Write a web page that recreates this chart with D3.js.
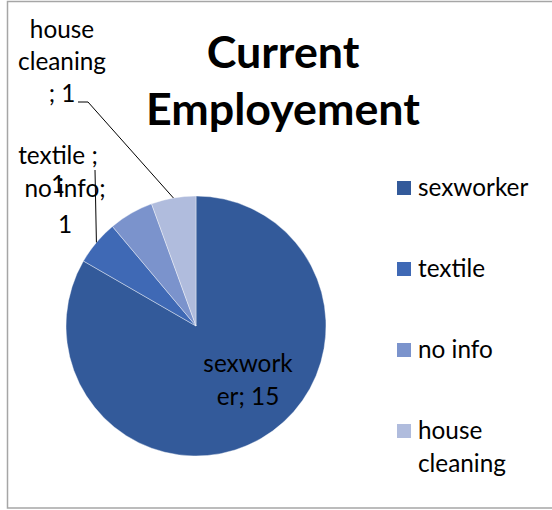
<!DOCTYPE html>
<html><head><meta charset="utf-8">
<script src="https://cdn.jsdelivr.net/npm/d3@7"></script>
<style>body{margin:0;background:#fff}svg{display:block}</style>
</head><body>
<svg id="c" width="552" height="510"></svg>
<script>
const categories = ["sexworker", "textile", "no info", "house cleaning"];
const values = [15, 1, 1, 1];
const colors = ["#335a9a", "#3f69b5", "#7b93cc", "#b0bcdd"];
const titleLines = ["Current", "Employement"];

const svg = d3.select("#c");
const W = 552, H = 510;
const FONT = "Lato, Carlito, Calibri, sans-serif";

svg.append("rect").attr("x", 0).attr("y", 0).attr("width", W).attr("height", H).attr("fill", "#fff");
svg.append("rect").attr("x", 7.5).attr("y", 1.5).attr("width", 600).attr("height", 506.5)
  .attr("fill", "none").attr("stroke", "#a6a6a6").attr("stroke-width", 1.5);

function fitSize(text, weight, target) {
  const t = svg.append("text").attr("font-family", FONT).attr("font-weight", weight)
    .attr("font-size", 100).text(text);
  const w = t.node().getComputedTextLength();
  t.remove();
  return 100 * target / w;
}
const titleSize = fitSize("Employement", "bold", 274);
const bodySize = fitSize("cleaning", "normal", 88);

// Title
const titleG = svg.append("g").attr("font-family", FONT).attr("font-weight", "bold")
  .attr("font-size", titleSize).attr("text-anchor", "middle").attr("fill", "#000");
titleG.selectAll("text").data(titleLines).join("text")
  .attr("x", 283).attr("y", (d, i) => 68 + i * 57).text(d => d);

// Pie
const cx = 196, cy = 326, R = 130;
const data = categories.map((c, i) => ({ cat: c, value: values[i], color: colors[i] }));
const pie = d3.pie().value(d => d.value).sort(null);
const arcs = pie(data);
const arc = d3.arc().innerRadius(0).outerRadius(R);
const g = svg.append("g").attr("transform", `translate(${cx},${cy})`);
g.selectAll("path").data(arcs).join("path")
  .attr("d", arc).attr("fill", d => d.data.color)
  .attr("stroke", "#fff").attr("stroke-width", 0.4);

// Labels
const labelLayout = {
  "sexworker": { splits: [7], x: 248, y: 372, lh: 33, leader: null },
  "textile": { splits: [9], x: 58, y: 164, lh: 29, leader: "vertical", lx: 95, ly: 170 },
  "no info": { splits: [8], x: 65, y: 197, lh: 36, leader: null },
  "house cleaning": { splits: [5, 14], x: 62, y: 38, lh: 32, leader: "elbow", lx: 78, ly: 102, ex: 88 }
};
const lblG = svg.append("g").attr("font-family", FONT).attr("font-size", bodySize)
  .attr("text-anchor", "middle").attr("fill", "#000");
arcs.forEach(a => {
  const L = labelLayout[a.data.cat];
  const sep = (a.data.cat === "textile" || a.data.cat === "house cleaning") ? " ; " : "; ";
  const str = a.data.cat + sep + a.data.value;
  const parts = [];
  let prev = 0;
  L.splits.forEach(p => { parts.push(str.slice(prev, p).trim()); prev = p; });
  parts.push(str.slice(prev).trim());
  const t = lblG.append("text").attr("x", L.x).attr("y", L.y);
  parts.forEach((p, i) => t.append("tspan").attr("x", L.x).attr("y", L.y + i * L.lh).text(p));
  const mid = (a.startAngle + a.endAngle) / 2;
  const px = cx + R * Math.sin(mid), py = cy - R * Math.cos(mid);
  if (L.leader === "vertical") {
    svg.append("path").attr("d", `M${L.lx},${L.ly}L${px},${py}`)
      .attr("stroke", "#000").attr("stroke-width", 1).attr("fill", "none");
  } else if (L.leader === "elbow") {
    svg.append("path").attr("d", `M${L.lx},${L.ly}L${L.ex},${L.ly}L${px},${py}`)
      .attr("stroke", "#000").attr("stroke-width", 1).attr("fill", "none");
  }
});

// Legend
const legG = svg.append("g").attr("font-family", FONT).attr("font-size", bodySize).attr("fill", "#000");
const legendLines = { "house cleaning": ["house", "cleaning"] };
const ly = d3.scalePoint().domain(categories).range([188, 431]);
categories.forEach((c, i) => {
  const y = ly(c);
  legG.append("rect").attr("x", 397).attr("y", y - 7).attr("width", 14).attr("height", 14).attr("fill", colors[i]);
  const lines = legendLines[c] || [c];
  const t = legG.append("text");
  lines.forEach((l, j) => t.append("tspan").attr("x", 418).attr("y", y + 8 + j * 33).text(l));
});
</script>
</body></html>
